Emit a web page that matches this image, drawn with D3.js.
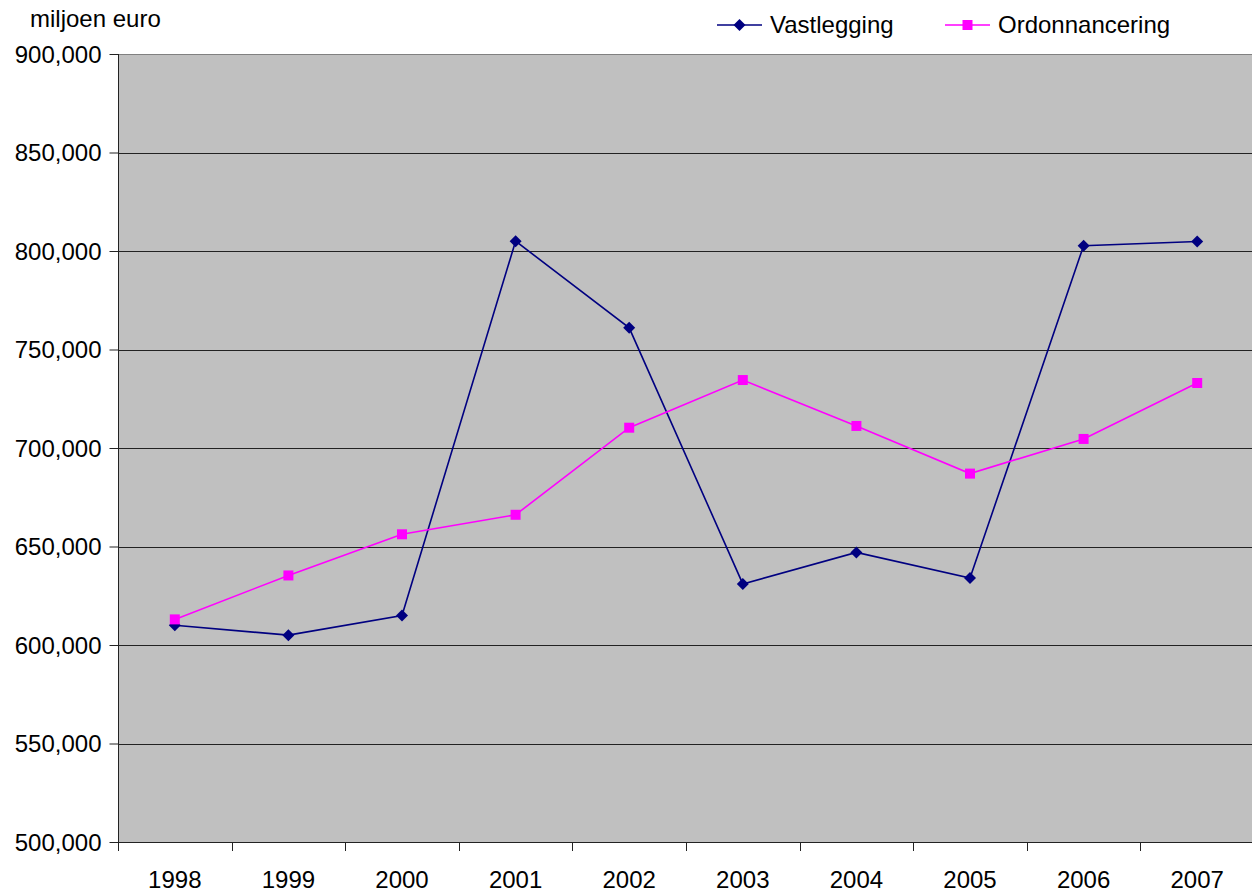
<!DOCTYPE html>
<html>
<head>
<meta charset="utf-8">
<script src="https://cdn.jsdelivr.net/npm/d3@7"></script>
<style>
  body { margin: 0; background: #fff; }
  text { font-family: "Liberation Sans", Arial, sans-serif; fill: #000; }
</style>
</head>
<body>
<svg id="chart" width="1252" height="892"></svg>
<script>
var years = ["1998", "1999", "2000", "2001", "2002", "2003", "2004", "2005", "2006", "2007"];
var vastlegging = [610000, 605000, 615000, 805000, 761000, 631000, 647000, 634000, 802700, 804800];
var ordonnancering = [613000, 635300, 656200, 666100, 710300, 734500, 711200, 687000, 704600, 733000];
var yTicks = [500000, 550000, 600000, 650000, 700000, 750000, 800000, 850000, 900000];

(function() {
  var svg = d3.select("#chart");
  var plotLeft = 118, plotRight = 1254, plotTop = 54, plotBottom = 842;

  var x = d3.scaleBand().domain(years).range([plotLeft, plotRight]);
  var y = d3.scaleLinear().domain([500000, 900000]).range([plotBottom, plotTop]);
  var fmt = d3.format(",d");

  // plot area
  svg.append("rect")
    .attr("x", plotLeft).attr("y", plotTop)
    .attr("width", plotRight - plotLeft).attr("height", plotBottom - plotTop)
    .attr("fill", "#c0c0c0");

  // gridlines
  svg.append("g").selectAll("line")
    .data(yTicks.slice(1))
    .join("line")
      .attr("x1", plotLeft).attr("x2", plotRight)
      .attr("y1", d => Math.round(y(d)) + 0.5).attr("y2", d => Math.round(y(d)) + 0.5)
      .attr("stroke", d => d === 900000 ? "#808080" : "#222")
      .attr("stroke-width", 1);

  // y axis
  var yAxis = d3.axisLeft(y).tickValues(yTicks).tickFormat(fmt).tickSize(9).tickPadding(8);
  var gy = svg.append("g")
    .attr("transform", "translate(" + (plotLeft + 0.5) + ",0)")
    .call(yAxis);
  gy.select(".domain").remove();
  gy.selectAll(".tick line").attr("stroke", "#222");
  gy.selectAll("text").style("font-size", "24px").attr("dy", "0.35em");
  gy.attr("font-family", null).attr("font-size", null);
  svg.append("line")
    .attr("x1", plotLeft + 0.5).attr("x2", plotLeft + 0.5)
    .attr("y1", plotTop).attr("y2", plotBottom + 9)
    .attr("stroke", "#222");

  // x axis
  var gx = svg.append("g")
    .attr("transform", "translate(0," + (plotBottom + 0.5) + ")")
    .call(d3.axisBottom(x).tickSize(0).tickPadding(28));
  gx.select(".domain").remove();
  gx.selectAll("text").style("font-size", "24px");
  gx.attr("font-family", null).attr("font-size", null);
  svg.append("line")
    .attr("x1", plotLeft).attr("x2", plotRight)
    .attr("y1", plotBottom + 0.5).attr("y2", plotBottom + 0.5)
    .attr("stroke", "#222");
  svg.append("g").selectAll("line")
    .data(years.slice(1))
    .join("line")
      .attr("x1", d => Math.round(x(d)) + 0.5).attr("x2", d => Math.round(x(d)) + 0.5)
      .attr("y1", plotBottom).attr("y2", plotBottom + 9)
      .attr("stroke", "#222");

  // unit label
  svg.append("text")
    .attr("x", 30).attr("y", 27)
    .style("font-size", "24px")
    .text("miljoen euro");

  // diamond = square turned 45 degrees
  var series = [
    { name: "Vastlegging", values: vastlegging, color: "#000080", size: 72, rotate: 45 },
    { name: "Ordonnancering", values: ordonnancering, color: "#ff00ff", size: 100, rotate: 0 }
  ];

  var line = d3.line()
    .x((d, i) => x(years[i]) + x.bandwidth() / 2)
    .y(d => y(d));

  series.forEach(function(s) {
    svg.append("path")
      .attr("d", line(s.values))
      .attr("fill", "none")
      .attr("stroke", s.color)
      .attr("stroke-width", 1.6);
    svg.append("g").selectAll("path")
      .data(s.values)
      .join("path")
        .attr("transform", (d, i) => "translate(" + (x(years[i]) + x.bandwidth() / 2) + "," + y(d) + ") rotate(" + s.rotate + ")")
        .attr("d", d3.symbol().type(d3.symbolSquare).size(s.size))
        .attr("fill", s.color);
  });

  // legend
  var legendX = [717, 945];
  var legend = svg.append("g").selectAll("g")
    .data(series)
    .join("g")
      .attr("transform", (d, i) => "translate(" + legendX[i] + ",25)");
  legend.append("line")
    .attr("x1", 0).attr("x2", 45)
    .attr("stroke", d => d.color).attr("stroke-width", 1.6);
  legend.append("path")
    .attr("transform", d => "translate(22.5,0) rotate(" + d.rotate + ")")
    .attr("d", d => d3.symbol().type(d3.symbolSquare).size(d.size)())
    .attr("fill", d => d.color);
  legend.append("text")
    .attr("x", 53).attr("dy", "0.35em")
    .style("font-size", "24px")
    .text(d => d.name);
})();
</script>
</body>
</html>
